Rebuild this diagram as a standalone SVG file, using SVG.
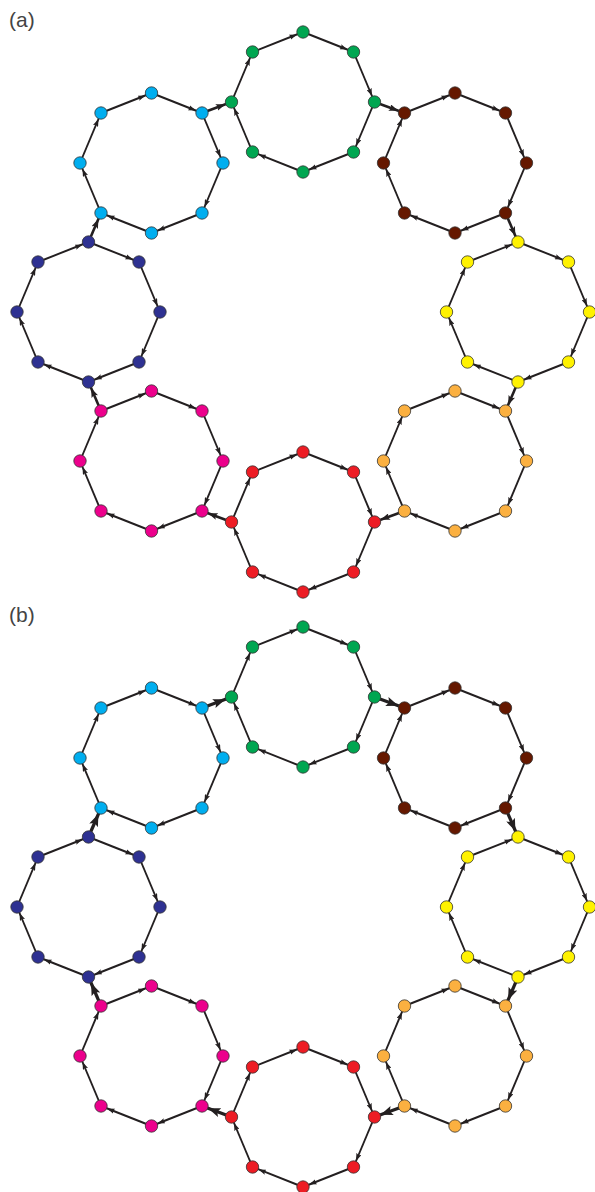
<svg xmlns="http://www.w3.org/2000/svg" xmlns:xlink="http://www.w3.org/1999/xlink" width="595" height="1192" viewBox="0 0 595 1192">
<style>
.lbl{font-family:"Liberation Sans",Arial,sans-serif;font-size:21px;fill:#444}
.edge line{stroke:#231F20;stroke-width:1.9;marker-end:url(#arr)}
.link-a{stroke:#231F20;stroke-width:2.6;marker-end:url(#arrA)}
.link-b{stroke:#231F20;stroke-width:3.2;marker-end:url(#arrB)}
circle{stroke:#333;stroke-width:0.8}
.green circle{fill:#00A651}
.brown circle{fill:#651800}
.yellow circle{fill:#FFF200}
.orange circle{fill:#FBB040}
.red circle{fill:#ED1C24}
.magenta circle{fill:#EC008C}
.navy circle{fill:#2E3192}
.cyan circle{fill:#00AEEF}
</style>
<defs>
<marker id="arr" markerUnits="userSpaceOnUse" markerWidth="15" markerHeight="5.6" refX="14.3" refY="2.8" orient="auto"><path d="M0,0 L7.8,2.8 L0,5.6 L1.6,2.8 z" fill="#231F20"/></marker>
<marker id="arrA" markerUnits="userSpaceOnUse" markerWidth="17" markerHeight="7" refX="16" refY="3.5" orient="auto"><path d="M0,0 L9.5,3.5 L0,7 L2,3.5 z" fill="#231F20"/></marker>
<marker id="arrB" markerUnits="userSpaceOnUse" markerWidth="20" markerHeight="9.4" refX="18.8" refY="4.7" orient="auto"><path d="M0,0 L12.3,4.7 L0,9.4 L2.5,4.7 z" fill="#231F20"/></marker>
<g id="ring-edges" class="edge">
<line x1="0" y1="-70" x2="50.5" y2="-50"/>
<line x1="50.5" y1="-50" x2="71.5" y2="0"/>
<line x1="71.5" y1="0" x2="50.5" y2="50"/>
<line x1="50.5" y1="50" x2="0" y2="70"/>
<line x1="0" y1="70" x2="-50.5" y2="50"/>
<line x1="-50.5" y1="50" x2="-71.5" y2="0"/>
<line x1="-71.5" y1="0" x2="-50.5" y2="-50"/>
<line x1="-50.5" y1="-50" x2="0" y2="-70"/>
</g>
</defs>
<rect width="595" height="1192" fill="#ffffff"/>
<text class="lbl" x="9" y="27">(a)</text>
<text class="lbl" x="9" y="622">(b)</text>

<g id="panel-a">
<g id="a-connectors">
<use xlink:href="#ring-edges" href="#ring-edges" transform="translate(303,102)"/>
<use xlink:href="#ring-edges" href="#ring-edges" transform="translate(455,163)"/>
<use xlink:href="#ring-edges" href="#ring-edges" transform="translate(518,312)"/>
<use xlink:href="#ring-edges" href="#ring-edges" transform="translate(455,461)"/>
<use xlink:href="#ring-edges" href="#ring-edges" transform="translate(303,522)"/>
<use xlink:href="#ring-edges" href="#ring-edges" transform="translate(151.5,461)"/>
<use xlink:href="#ring-edges" href="#ring-edges" transform="translate(88.5,312)"/>
<use xlink:href="#ring-edges" href="#ring-edges" transform="translate(151.5,163)"/>
<line class="link-a" x1="202" y1="113" x2="231.5" y2="102"/>
<line class="link-a" x1="374.5" y1="102" x2="404.5" y2="113"/>
<line class="link-a" x1="505.5" y1="213" x2="518" y2="242"/>
<line class="link-a" x1="518" y1="382" x2="505.5" y2="411"/>
<line class="link-a" x1="404.5" y1="511" x2="374.5" y2="522"/>
<line class="link-a" x1="231.5" y1="522" x2="202" y2="511"/>
<line class="link-a" x1="101" y1="411" x2="88.5" y2="382"/>
<line class="link-a" x1="88.5" y1="242" x2="101" y2="213"/>
</g>
<g id="a-green" class="green" transform="translate(303,102)">
<g id="a-green-0"><circle cx="0" cy="-70" r="6.2"/></g>
<g id="a-green-1"><circle cx="50.5" cy="-50" r="6.2"/></g>
<g id="a-green-2"><circle cx="71.5" cy="0" r="6.2"/></g>
<g id="a-green-3"><circle cx="50.5" cy="50" r="6.2"/></g>
<g id="a-green-4"><circle cx="0" cy="70" r="6.2"/></g>
<g id="a-green-5"><circle cx="-50.5" cy="50" r="6.2"/></g>
<g id="a-green-6"><circle cx="-71.5" cy="0" r="6.2"/></g>
<g id="a-green-7"><circle cx="-50.5" cy="-50" r="6.2"/></g>
</g>
<g id="a-brown" class="brown" transform="translate(455,163)">
<g id="a-brown-0"><circle cx="0" cy="-70" r="6.2"/></g>
<g id="a-brown-1"><circle cx="50.5" cy="-50" r="6.2"/></g>
<g id="a-brown-2"><circle cx="71.5" cy="0" r="6.2"/></g>
<g id="a-brown-3"><circle cx="50.5" cy="50" r="6.2"/></g>
<g id="a-brown-4"><circle cx="0" cy="70" r="6.2"/></g>
<g id="a-brown-5"><circle cx="-50.5" cy="50" r="6.2"/></g>
<g id="a-brown-6"><circle cx="-71.5" cy="0" r="6.2"/></g>
<g id="a-brown-7"><circle cx="-50.5" cy="-50" r="6.2"/></g>
</g>
<g id="a-yellow" class="yellow" transform="translate(518,312)">
<g id="a-yellow-0"><circle cx="0" cy="-70" r="6.2"/></g>
<g id="a-yellow-1"><circle cx="50.5" cy="-50" r="6.2"/></g>
<g id="a-yellow-2"><circle cx="71.5" cy="0" r="6.2"/></g>
<g id="a-yellow-3"><circle cx="50.5" cy="50" r="6.2"/></g>
<g id="a-yellow-4"><circle cx="0" cy="70" r="6.2"/></g>
<g id="a-yellow-5"><circle cx="-50.5" cy="50" r="6.2"/></g>
<g id="a-yellow-6"><circle cx="-71.5" cy="0" r="6.2"/></g>
<g id="a-yellow-7"><circle cx="-50.5" cy="-50" r="6.2"/></g>
</g>
<g id="a-orange" class="orange" transform="translate(455,461)">
<g id="a-orange-0"><circle cx="0" cy="-70" r="6.2"/></g>
<g id="a-orange-1"><circle cx="50.5" cy="-50" r="6.2"/></g>
<g id="a-orange-2"><circle cx="71.5" cy="0" r="6.2"/></g>
<g id="a-orange-3"><circle cx="50.5" cy="50" r="6.2"/></g>
<g id="a-orange-4"><circle cx="0" cy="70" r="6.2"/></g>
<g id="a-orange-5"><circle cx="-50.5" cy="50" r="6.2"/></g>
<g id="a-orange-6"><circle cx="-71.5" cy="0" r="6.2"/></g>
<g id="a-orange-7"><circle cx="-50.5" cy="-50" r="6.2"/></g>
</g>
<g id="a-red" class="red" transform="translate(303,522)">
<g id="a-red-0"><circle cx="0" cy="-70" r="6.2"/></g>
<g id="a-red-1"><circle cx="50.5" cy="-50" r="6.2"/></g>
<g id="a-red-2"><circle cx="71.5" cy="0" r="6.2"/></g>
<g id="a-red-3"><circle cx="50.5" cy="50" r="6.2"/></g>
<g id="a-red-4"><circle cx="0" cy="70" r="6.2"/></g>
<g id="a-red-5"><circle cx="-50.5" cy="50" r="6.2"/></g>
<g id="a-red-6"><circle cx="-71.5" cy="0" r="6.2"/></g>
<g id="a-red-7"><circle cx="-50.5" cy="-50" r="6.2"/></g>
</g>
<g id="a-magenta" class="magenta" transform="translate(151.5,461)">
<g id="a-magenta-0"><circle cx="0" cy="-70" r="6.2"/></g>
<g id="a-magenta-1"><circle cx="50.5" cy="-50" r="6.2"/></g>
<g id="a-magenta-2"><circle cx="71.5" cy="0" r="6.2"/></g>
<g id="a-magenta-3"><circle cx="50.5" cy="50" r="6.2"/></g>
<g id="a-magenta-4"><circle cx="0" cy="70" r="6.2"/></g>
<g id="a-magenta-5"><circle cx="-50.5" cy="50" r="6.2"/></g>
<g id="a-magenta-6"><circle cx="-71.5" cy="0" r="6.2"/></g>
<g id="a-magenta-7"><circle cx="-50.5" cy="-50" r="6.2"/></g>
</g>
<g id="a-navy" class="navy" transform="translate(88.5,312)">
<g id="a-navy-0"><circle cx="0" cy="-70" r="6.2"/></g>
<g id="a-navy-1"><circle cx="50.5" cy="-50" r="6.2"/></g>
<g id="a-navy-2"><circle cx="71.5" cy="0" r="6.2"/></g>
<g id="a-navy-3"><circle cx="50.5" cy="50" r="6.2"/></g>
<g id="a-navy-4"><circle cx="0" cy="70" r="6.2"/></g>
<g id="a-navy-5"><circle cx="-50.5" cy="50" r="6.2"/></g>
<g id="a-navy-6"><circle cx="-71.5" cy="0" r="6.2"/></g>
<g id="a-navy-7"><circle cx="-50.5" cy="-50" r="6.2"/></g>
</g>
<g id="a-cyan" class="cyan" transform="translate(151.5,163)">
<g id="a-cyan-0"><circle cx="0" cy="-70" r="6.2"/></g>
<g id="a-cyan-1"><circle cx="50.5" cy="-50" r="6.2"/></g>
<g id="a-cyan-2"><circle cx="71.5" cy="0" r="6.2"/></g>
<g id="a-cyan-3"><circle cx="50.5" cy="50" r="6.2"/></g>
<g id="a-cyan-4"><circle cx="0" cy="70" r="6.2"/></g>
<g id="a-cyan-5"><circle cx="-50.5" cy="50" r="6.2"/></g>
<g id="a-cyan-6"><circle cx="-71.5" cy="0" r="6.2"/></g>
<g id="a-cyan-7"><circle cx="-50.5" cy="-50" r="6.2"/></g>
</g>
</g>

<g id="panel-b" transform="translate(0,595)">
<g id="b-connectors">
<use xlink:href="#ring-edges" href="#ring-edges" transform="translate(303,102)"/>
<use xlink:href="#ring-edges" href="#ring-edges" transform="translate(455,163)"/>
<use xlink:href="#ring-edges" href="#ring-edges" transform="translate(518,312)"/>
<use xlink:href="#ring-edges" href="#ring-edges" transform="translate(455,461)"/>
<use xlink:href="#ring-edges" href="#ring-edges" transform="translate(303,522)"/>
<use xlink:href="#ring-edges" href="#ring-edges" transform="translate(151.5,461)"/>
<use xlink:href="#ring-edges" href="#ring-edges" transform="translate(88.5,312)"/>
<use xlink:href="#ring-edges" href="#ring-edges" transform="translate(151.5,163)"/>
<line class="link-b" x1="202" y1="113" x2="231.5" y2="102"/>
<line class="link-b" x1="374.5" y1="102" x2="404.5" y2="113"/>
<line class="link-b" x1="505.5" y1="213" x2="518" y2="242"/>
<line class="link-b" x1="518" y1="382" x2="505.5" y2="411"/>
<line class="link-b" x1="404.5" y1="511" x2="374.5" y2="522"/>
<line class="link-b" x1="231.5" y1="522" x2="202" y2="511"/>
<line class="link-b" x1="101" y1="411" x2="88.5" y2="382"/>
<line class="link-b" x1="88.5" y1="242" x2="101" y2="213"/>
</g>
<g id="b-green" class="green" transform="translate(303,102)">
<g id="b-green-0"><circle cx="0" cy="-70" r="6.2"/></g>
<g id="b-green-1"><circle cx="50.5" cy="-50" r="6.2"/></g>
<g id="b-green-2"><circle cx="71.5" cy="0" r="6.2"/></g>
<g id="b-green-3"><circle cx="50.5" cy="50" r="6.2"/></g>
<g id="b-green-4"><circle cx="0" cy="70" r="6.2"/></g>
<g id="b-green-5"><circle cx="-50.5" cy="50" r="6.2"/></g>
<g id="b-green-6"><circle cx="-71.5" cy="0" r="6.2"/></g>
<g id="b-green-7"><circle cx="-50.5" cy="-50" r="6.2"/></g>
</g>
<g id="b-brown" class="brown" transform="translate(455,163)">
<g id="b-brown-0"><circle cx="0" cy="-70" r="6.2"/></g>
<g id="b-brown-1"><circle cx="50.5" cy="-50" r="6.2"/></g>
<g id="b-brown-2"><circle cx="71.5" cy="0" r="6.2"/></g>
<g id="b-brown-3"><circle cx="50.5" cy="50" r="6.2"/></g>
<g id="b-brown-4"><circle cx="0" cy="70" r="6.2"/></g>
<g id="b-brown-5"><circle cx="-50.5" cy="50" r="6.2"/></g>
<g id="b-brown-6"><circle cx="-71.5" cy="0" r="6.2"/></g>
<g id="b-brown-7"><circle cx="-50.5" cy="-50" r="6.2"/></g>
</g>
<g id="b-yellow" class="yellow" transform="translate(518,312)">
<g id="b-yellow-0"><circle cx="0" cy="-70" r="6.2"/></g>
<g id="b-yellow-1"><circle cx="50.5" cy="-50" r="6.2"/></g>
<g id="b-yellow-2"><circle cx="71.5" cy="0" r="6.2"/></g>
<g id="b-yellow-3"><circle cx="50.5" cy="50" r="6.2"/></g>
<g id="b-yellow-4"><circle cx="0" cy="70" r="6.2"/></g>
<g id="b-yellow-5"><circle cx="-50.5" cy="50" r="6.2"/></g>
<g id="b-yellow-6"><circle cx="-71.5" cy="0" r="6.2"/></g>
<g id="b-yellow-7"><circle cx="-50.5" cy="-50" r="6.2"/></g>
</g>
<g id="b-orange" class="orange" transform="translate(455,461)">
<g id="b-orange-0"><circle cx="0" cy="-70" r="6.2"/></g>
<g id="b-orange-1"><circle cx="50.5" cy="-50" r="6.2"/></g>
<g id="b-orange-2"><circle cx="71.5" cy="0" r="6.2"/></g>
<g id="b-orange-3"><circle cx="50.5" cy="50" r="6.2"/></g>
<g id="b-orange-4"><circle cx="0" cy="70" r="6.2"/></g>
<g id="b-orange-5"><circle cx="-50.5" cy="50" r="6.2"/></g>
<g id="b-orange-6"><circle cx="-71.5" cy="0" r="6.2"/></g>
<g id="b-orange-7"><circle cx="-50.5" cy="-50" r="6.2"/></g>
</g>
<g id="b-red" class="red" transform="translate(303,522)">
<g id="b-red-0"><circle cx="0" cy="-70" r="6.2"/></g>
<g id="b-red-1"><circle cx="50.5" cy="-50" r="6.2"/></g>
<g id="b-red-2"><circle cx="71.5" cy="0" r="6.2"/></g>
<g id="b-red-3"><circle cx="50.5" cy="50" r="6.2"/></g>
<g id="b-red-4"><circle cx="0" cy="70" r="6.2"/></g>
<g id="b-red-5"><circle cx="-50.5" cy="50" r="6.2"/></g>
<g id="b-red-6"><circle cx="-71.5" cy="0" r="6.2"/></g>
<g id="b-red-7"><circle cx="-50.5" cy="-50" r="6.2"/></g>
</g>
<g id="b-magenta" class="magenta" transform="translate(151.5,461)">
<g id="b-magenta-0"><circle cx="0" cy="-70" r="6.2"/></g>
<g id="b-magenta-1"><circle cx="50.5" cy="-50" r="6.2"/></g>
<g id="b-magenta-2"><circle cx="71.5" cy="0" r="6.2"/></g>
<g id="b-magenta-3"><circle cx="50.5" cy="50" r="6.2"/></g>
<g id="b-magenta-4"><circle cx="0" cy="70" r="6.2"/></g>
<g id="b-magenta-5"><circle cx="-50.5" cy="50" r="6.2"/></g>
<g id="b-magenta-6"><circle cx="-71.5" cy="0" r="6.2"/></g>
<g id="b-magenta-7"><circle cx="-50.5" cy="-50" r="6.2"/></g>
</g>
<g id="b-navy" class="navy" transform="translate(88.5,312)">
<g id="b-navy-0"><circle cx="0" cy="-70" r="6.2"/></g>
<g id="b-navy-1"><circle cx="50.5" cy="-50" r="6.2"/></g>
<g id="b-navy-2"><circle cx="71.5" cy="0" r="6.2"/></g>
<g id="b-navy-3"><circle cx="50.5" cy="50" r="6.2"/></g>
<g id="b-navy-4"><circle cx="0" cy="70" r="6.2"/></g>
<g id="b-navy-5"><circle cx="-50.5" cy="50" r="6.2"/></g>
<g id="b-navy-6"><circle cx="-71.5" cy="0" r="6.2"/></g>
<g id="b-navy-7"><circle cx="-50.5" cy="-50" r="6.2"/></g>
</g>
<g id="b-cyan" class="cyan" transform="translate(151.5,163)">
<g id="b-cyan-0"><circle cx="0" cy="-70" r="6.2"/></g>
<g id="b-cyan-1"><circle cx="50.5" cy="-50" r="6.2"/></g>
<g id="b-cyan-2"><circle cx="71.5" cy="0" r="6.2"/></g>
<g id="b-cyan-3"><circle cx="50.5" cy="50" r="6.2"/></g>
<g id="b-cyan-4"><circle cx="0" cy="70" r="6.2"/></g>
<g id="b-cyan-5"><circle cx="-50.5" cy="50" r="6.2"/></g>
<g id="b-cyan-6"><circle cx="-71.5" cy="0" r="6.2"/></g>
<g id="b-cyan-7"><circle cx="-50.5" cy="-50" r="6.2"/></g>
</g>
</g>
</svg>
